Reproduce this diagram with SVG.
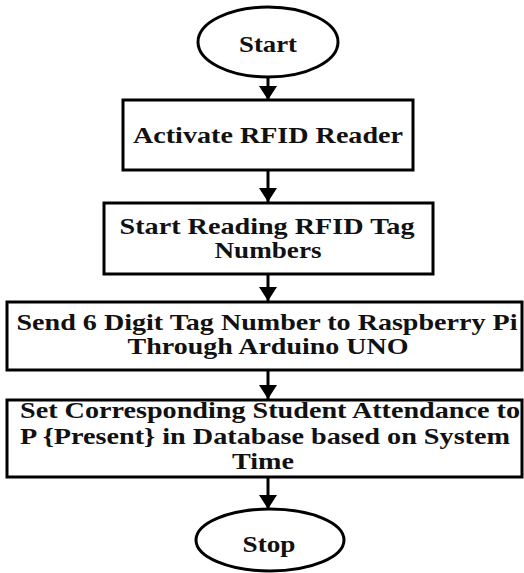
<svg xmlns="http://www.w3.org/2000/svg" width="524" height="573" viewBox="0 0 524 573">
<style>
.shape{fill:#fff;stroke:#000;stroke-width:3}
.t{font-family:"Liberation Serif","Times New Roman",serif;font-weight:bold;font-size:24px;fill:#111;text-anchor:middle}
.c{stroke:#000;stroke-width:3;fill:none}
</style>
<defs>
<marker id="ah" markerUnits="userSpaceOnUse" markerWidth="14" markerHeight="18" refX="14" refY="9" orient="auto">
<path d="M0,0 L14,9 L0,18 Z" fill="#000"/>
</marker>
</defs>
<rect width="524" height="573" fill="#fff"/>
<g id="connectors">
<line class="c" x1="268" y1="78" x2="268" y2="100" marker-end="url(#ah)"/>
<line class="c" x1="268" y1="170" x2="268" y2="202" marker-end="url(#ah)"/>
<line class="c" x1="268" y1="274" x2="268" y2="301" marker-end="url(#ah)"/>
<line class="c" x1="268" y1="370" x2="268" y2="399" marker-end="url(#ah)"/>
<line class="c" x1="268" y1="477" x2="268" y2="509" marker-end="url(#ah)"/>
</g>
<g id="start">
<ellipse class="shape" cx="268" cy="42" rx="70" ry="35"/>
<text class="t" x="268" y="52" textLength="58" lengthAdjust="spacingAndGlyphs">Start</text>
</g>
<g id="activate">
<rect class="shape" x="123" y="100" width="290" height="70"/>
<text class="t" x="268" y="143" textLength="270" lengthAdjust="spacingAndGlyphs">Activate RFID Reader</text>
</g>
<g id="reading">
<rect class="shape" x="104" y="203" width="329" height="71"/>
<text class="t" x="267" y="234" textLength="295" lengthAdjust="spacingAndGlyphs">Start Reading RFID Tag</text>
<text class="t" x="268" y="258" textLength="107" lengthAdjust="spacingAndGlyphs">Numbers</text>
</g>
<g id="send">
<rect class="shape" x="7" y="302" width="515" height="68"/>
<text class="t" x="267" y="330" textLength="501" lengthAdjust="spacingAndGlyphs">Send 6 Digit Tag Number to Raspberry Pi</text>
<text class="t" x="268" y="354" textLength="281" lengthAdjust="spacingAndGlyphs">Through Arduino UNO</text>
</g>
<g id="attendance">
<rect class="shape" x="7" y="400" width="515" height="77"/>
<text class="t" x="270" y="418" textLength="500" lengthAdjust="spacingAndGlyphs">Set Corresponding Student Attendance to</text>
<text class="t" x="265" y="444" textLength="490" lengthAdjust="spacingAndGlyphs">P {Present} in Database based on System</text>
<text class="t" x="263" y="469" textLength="62" lengthAdjust="spacingAndGlyphs">Time</text>
</g>
<g id="stop">
<ellipse class="shape" cx="270" cy="540" rx="74" ry="31"/>
<text class="t" x="269" y="552" textLength="53" lengthAdjust="spacingAndGlyphs">Stop</text>
</g>
</svg>
